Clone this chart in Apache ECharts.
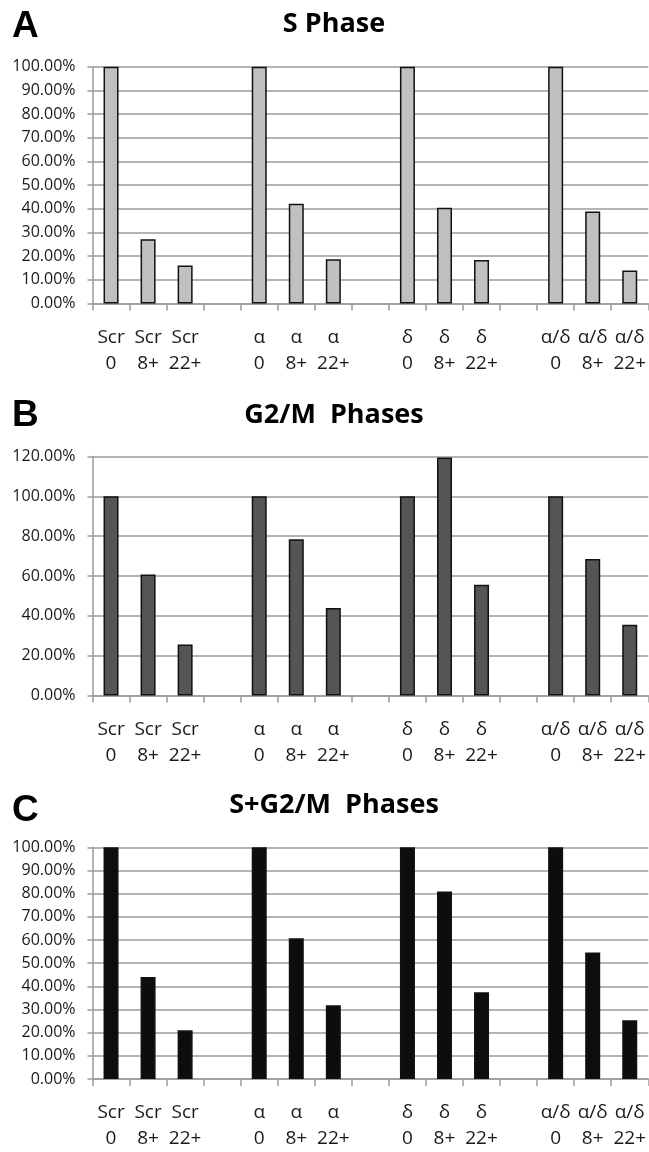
<!DOCTYPE html>
<html>
<head>
<meta charset="utf-8">
<script src="https://cdn.jsdelivr.net/npm/echarts@6/dist/echarts.min.js"></script>
<style>
  html, body { margin: 0; padding: 0; background: #fff; }
  #chart { width: 649px; height: 1152px; }
</style>
</head>
<body>
<div id="chart"></div>
<script>
// ---- data ----
const categories = ['Scr\n0', 'Scr\n8+', 'Scr\n22+', ' ',
                    'α\n0', 'α\n8+', 'α\n22+', '  ',
                    'δ\n0', 'δ\n8+', 'δ\n22+', '   ',
                    'α/δ\n0', 'α/δ\n8+', 'α/δ\n22+'];
const sPhase   = [100, 27.1, 16.0, null, 100, 42.1, 18.7, null, 100, 40.4, 18.4, null, 100, 38.8, 13.9];
const g2mPhase = [100, 60.8, 25.6, null, 100, 78.5, 43.9, null, 100, 119.5, 55.6, null, 100, 68.5, 35.5];
const sg2mPhase = [100, 44.0, 21.0, null, 100, 60.7, 31.8, null, 100, 80.9, 37.4, null, 100, 54.6, 25.4];
const panelLetters = ['A', 'B', 'C'];
const panelTitles = ['S Phase', 'G2/M  Phases', 'S+G2/M  Phases'];
const yMax = [100, 120, 100];
const yStep = [10, 20, 10];

// ---- layout ----
const grids = [
  { left: 92.5, width: 557, top: 66.7, height: 236.8 },
  { left: 92.5, width: 557, top: 456.5, height: 239 },
  { left: 92.5, width: 557, top: 847.3, height: 237 }
];
const titleY = [24, 415.5, 805];
const letterY = [26.5, 415, 810];
const fills = ['#c0c0c0', '#555555', '#0d0d0d'];
const seriesData = [sPhase, g2mPhase, sg2mPhase];

const gridColor = '#9b9b9b';
const textColor = '#1a1a1a';
const bodyFont = '"Open Sans", "Noto Sans", sans-serif';

const option = {
  animation: false,
  backgroundColor: '#ffffff',
  grid: grids,
  xAxis: grids.map((g, i) => ({
    type: 'category',
    gridIndex: i,
    data: categories,
    axisLine: { lineStyle: { color: gridColor, width: 1.5 } },
    axisTick: { show: true, alignWithLabel: false, length: 7, lineStyle: { color: gridColor, width: 1.5 } },
    axisLabel: {
      interval: 0,
      margin: 21,
      color: textColor,
      fontFamily: bodyFont,
      fontSize: 19,
      lineHeight: 26
    },
    splitLine: { show: false }
  })),
  yAxis: grids.map((g, i) => ({
    type: 'value',
    gridIndex: i,
    min: 0,
    max: yMax[i],
    interval: yStep[i],
    axisLine: { show: true, lineStyle: { color: gridColor, width: 1.5 } },
    axisTick: { show: true, length: 5, lineStyle: { color: gridColor, width: 1.5 } },
    axisLabel: {
      margin: 17,
      color: textColor,
      fontFamily: bodyFont,
      fontSize: 16,
      formatter: v => v.toFixed(2) + '%'
    },
    splitLine: { show: true, lineStyle: { color: gridColor, width: 1.5 } }
  })),
  series: seriesData.map((d, i) => ({
    type: 'bar',
    xAxisIndex: i,
    yAxisIndex: i,
    data: d,
    barWidth: 15,
    itemStyle: { color: fills[i], borderColor: '#111111', borderWidth: 1.5 }
  })),
  graphic: [].concat(
    panelLetters.map((t, i) => ({
      type: 'text',
      left: 12,
      top: letterY[i] - 18,
      style: {
        text: t,
        font: 'bold 37px "Liberation Sans", Arial, sans-serif',
        fill: '#000'
      }
    })),
    panelTitles.map((t, i) => ({
      type: 'text',
      x: 334,
      y: titleY[i],
      style: {
        text: t,
        font: 'bold 27px ' + bodyFont,
        fill: '#000',
        textAlign: 'center',
        textVerticalAlign: 'middle'
      }
    }))
  )
};

const chart = echarts.init(document.getElementById('chart'), null, { renderer: 'canvas' });
chart.setOption(option);
</script>
</body>
</html>
